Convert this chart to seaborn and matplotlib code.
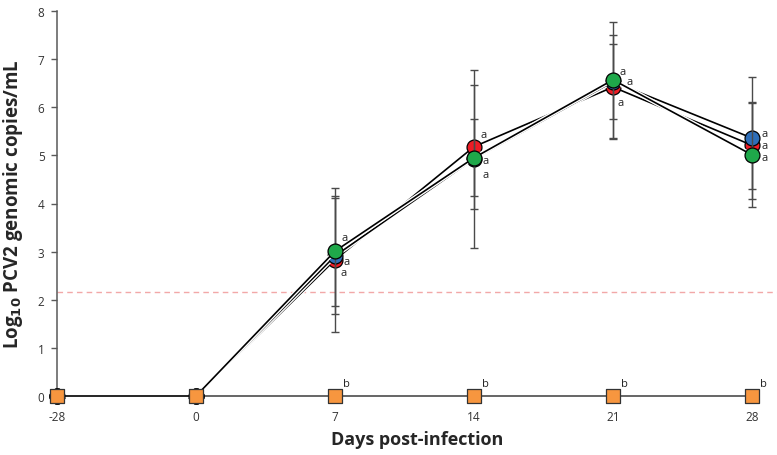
import numpy as np
import pandas as pd
import matplotlib
matplotlib.use("Agg")
import matplotlib.pyplot as plt
import matplotlib.patheffects as pe
import seaborn as sns

days = ["-28", "0", "7", "14", "21", "28"]
blue_vals = [0, 0, 2.91, 4.93, 6.53, 5.36]
blue_err = [0, 0, 1.20, 1.85, 0.78, 1.27]
red_vals = [0, 0, 2.83, 5.18, 6.42, 5.21]
red_err = [0, 0, 1.50, 1.29, 1.08, 0.90]
green_vals = [0, 0, 3.01, 4.95, 6.57, 5.01]
green_err = [0, 0, 1.15, 0.80, 1.20, 1.08]
orange_vals = [0, 0, 0, 0, 0, 0]
threshold = 2.16
y_ticks = [0, 1, 2, 3, 4, 5, 6, 7, 8]

# significance letters (a for infected groups, b for controls)
letters_abc = ["a", "a", "a"]
letter_b = "b"

sns.set_theme(style="white")
plt.rcParams['font.family'] = ['Open Sans', 'DejaVu Sans']

fig = plt.figure(figsize=(7.77, 4.56), dpi=100)
ax = fig.add_axes([57/777, (456-397)/456, (777-57)/777, 385/456])

x = np.arange(len(days))
df = pd.DataFrame({
    "x": np.tile(x, 4),
    "y": red_vals + blue_vals + green_vals + orange_vals,
    "err": red_err + blue_err + green_err + [0]*6,
    "group": ["red"]*6 + ["blue"]*6 + ["green"]*6 + ["orange"]*6,
})
colors = {"red": "#EE1C25", "blue": "#2E6EB8", "green": "#1FA84A", "orange": "#F7963F"}

ax.axhline(threshold, color="#F2A8A8", lw=1, ls=(0, (4, 3)), zorder=1)

# orange control line along zero
sub = df[df.group == "orange"]
sns.lineplot(data=sub, x="x", y="y", ax=ax, color="#595959", lw=1.3,
             zorder=2, legend=False, clip_on=False)

z = 3
for g in ["red", "blue", "green"]:
    sub = df[df.group == g]
    ax.errorbar(sub.x[2:], sub.y[2:], yerr=sub.err[2:], fmt="none",
                ecolor="#4a4a4a", elinewidth=1, capsize=3, capthick=1, zorder=z)
    line = sns.lineplot(data=sub, x="x", y="y", ax=ax, color="black", lw=1.2,
                        zorder=z + 0.5, legend=False, clip_on=False)
    line.lines[-1].set_path_effects([pe.Stroke(linewidth=3.2, foreground="white"), pe.Normal()])
    sns.scatterplot(data=sub, x="x", y="y", ax=ax, color=colors[g], s=115,
                    edgecolor="black", linewidth=0.9, zorder=z + 1, legend=False, clip_on=False)
    z += 2

sub = df[df.group == "orange"]
sns.scatterplot(data=sub, x="x", y="y", ax=ax, color=colors["orange"], marker="s",
                s=110, edgecolor="#333333", linewidth=0.9, zorder=20, legend=False, clip_on=False)

# letter annotations
offsets = {
    2: [(5, 10, green_vals), (6, -4, blue_vals), (4, -9, red_vals)],
    3: [(5, 9, red_vals), (6, -2, green_vals), (6, -11, blue_vals)],
    4: [(5, 6, green_vals), (10, 0, blue_vals), (3, -11, red_vals)],
    5: [(7, 3, blue_vals), (7, 0, red_vals), (7, -2, green_vals)],
}
for i, items in offsets.items():
    for (dx, dy, vals), lab in zip(items, letters_abc):
        ax.annotate(lab, (x[i], vals[i]), xytext=(dx, dy), textcoords="offset points",
                    fontsize=8, color="#222222", ha="left", va="center", zorder=30,
                    annotation_clip=False)
for i in range(2, 6):
    ax.annotate(letter_b, (x[i], 0), xytext=(6, 9), textcoords="offset points",
                fontsize=8, color="#222222", ha="left", va="center", zorder=30,
                annotation_clip=False)

ax.set_xlim(0, 720/139)
ax.set_ylim(0, 8)
ax.set_xticks(x)
ax.set_xticklabels(days)
ax.set_yticks(y_ticks)
ax.set_yticklabels([str(t) for t in y_ticks])
ax.tick_params(axis="x", length=0, pad=10, labelsize=8.5, labelcolor="#333333")
ax.tick_params(axis="y", length=4, width=1, color="#595959", direction="out",
               pad=5, labelsize=8.5, labelcolor="#333333", left=True)
for s in ["top", "right"]:
    ax.spines[s].set_visible(False)
for s in ["left", "bottom"]:
    ax.spines[s].set_color("#595959")
    ax.spines[s].set_linewidth(1.1)
ax.spines["bottom"].set_visible(False)
ax.grid(False)

ax.set_xlabel("Days post-infection", fontsize=13, fontweight="bold", labelpad=5)
ax.set_ylabel("Log$_{\\mathbf{10}}$ PCV2 genomic copies/mL", fontsize=13.5,
              fontweight="bold", labelpad=9)

fig.savefig("out.png", dpi=100)
